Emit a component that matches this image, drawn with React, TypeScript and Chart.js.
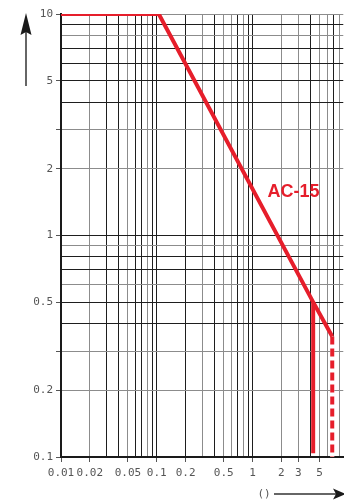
import React, { useEffect, useRef } from "react";
import { Chart, registerables } from "chart.js";

Chart.register(...registerables);

// ---- data ----
const curveX = [0.01, 0.105, 4.3, 6.8];
const curveY = [10, 10, 0.5, 0.35];
const solidLimitX = [4.3, 4.3];
const solidLimitY = [0.5, 0.104];
const dashedLimitX = [6.8, 6.8];
const dashedLimitY = [0.35, 0.1];
const xTickLabels = [0.01, 0.02, 0.05, 0.1, 0.2, 0.5, 1, 2, 3, 5];
const yTickLabels = [0.1, 0.2, 0.5, 1, 2, 5, 10];
const yTickMarksExtra = [0.3, 3];
const seriesLabel = "AC-15";
const labelAt = [1.43, 1.57];
const xMin = 0.01;
const xMax = 8.87;
const yMin = 0.1;
const yMax = 10;

// ---- styles ----
const RED = "#e61e2b";
const GRID_DARK = "#1e1e1e";
const GRID_GRAY = "#8c8c8c";
const xGrayGrid = [0.02, 0.05, 0.08, 0.3, 0.5, 0.6, 0.8, 2, 3, 5, 6, 8];
const yGrayGrid = [10, 8, 3, 2, 0.9, 0.6, 0.3, 0.2];

const near = (a: number, b: number) =>
  Math.abs(Math.log10(a) - Math.log10(b)) < 1e-6;
const inList = (v: number, list: number[]) => list.some((l) => near(v, l));

function logGrid(min: number, max: number) {
  const out: number[] = [];
  for (let e = -3; e <= 2; e++) {
    for (let m = 1; m <= 9; m++) {
      const v = Number((m * Math.pow(10, e)).toPrecision(6));
      if (v >= min * 0.9999 && v <= max * 1.0001) out.push(v);
    }
  }
  return out;
}

const pts = (xs: number[], ys: number[]) => xs.map((x, i) => ({ x, y: ys[i] }));

export default function App() {
  const ref = useRef<HTMLCanvasElement | null>(null);

  useEffect(() => {
    if (!ref.current) return;
    const decor = {
      id: "decor",
      afterDraw(chart: any) {
        const ctx = chart.ctx;
        const xs = chart.scales.x;
        const ys = chart.scales.y;
        ctx.save();
        // series label
        ctx.fillStyle = RED;
        ctx.font = "bold 18px 'Liberation Sans', Arial, sans-serif";
        ctx.textAlign = "left";
        ctx.textBaseline = "middle";
        ctx.fillText(seriesLabel, xs.getPixelForValue(labelAt[0]), ys.getPixelForValue(labelAt[1]));
        // vertical arrow
        ctx.strokeStyle = "#333";
        ctx.fillStyle = "#1a1a1a";
        ctx.lineWidth = 1.5;
        ctx.beginPath();
        ctx.moveTo(26, 86);
        ctx.lineTo(26, 30);
        ctx.stroke();
        ctx.beginPath();
        ctx.moveTo(26, 13);
        ctx.lineTo(31.5, 35);
        ctx.lineTo(26, 32);
        ctx.lineTo(20.5, 35);
        ctx.closePath();
        ctx.fill();
        // horizontal arrow
        ctx.beginPath();
        ctx.moveTo(274, 494);
        ctx.lineTo(338, 494);
        ctx.stroke();
        ctx.beginPath();
        ctx.moveTo(346, 494);
        ctx.lineTo(333, 488.5);
        ctx.lineTo(336, 494);
        ctx.lineTo(333, 499.5);
        ctx.closePath();
        ctx.fill();
        ctx.fillStyle = "#555";
        ctx.font = "11px 'DejaVu Sans Mono', monospace";
        ctx.textAlign = "center";
        ctx.textBaseline = "middle";
        ctx.fillText("()", 264, 494);
        ctx.restore();
      },
    };

    const chart = new Chart(ref.current, {
      type: "line",
      data: {
        datasets: [
          {
            data: pts(curveX, curveY),
            borderColor: RED,
            borderWidth: 4,
            pointRadius: 0,
            tension: 0,
            borderCapStyle: "butt",
            borderJoinStyle: "miter",
            order: 0,
          },
          {
            data: pts(solidLimitX, solidLimitY),
            borderColor: RED,
            borderWidth: 4,
            pointRadius: 0,
            order: 1,
          },
          {
            data: pts(dashedLimitX, dashedLimitY),
            borderColor: RED,
            borderWidth: 4,
            borderDash: [8, 4],
            pointRadius: 0,
            order: 2,
          },
          {
            data: pts(dashedLimitX, dashedLimitY),
            borderColor: "#ffffff",
            borderWidth: 4,
            pointRadius: 0,
            order: 3,
          },
        ],
      },
      plugins: [decor],
      options: {
        animation: false,
        responsive: false,
        layout: { padding: { top: 14, left: 0, right: 0, bottom: 0 } },
        plugins: { legend: { display: false }, tooltip: { enabled: false } },
        scales: {
          x: {
            type: "logarithmic",
            min: xMin,
            max: xMax,
            afterBuildTicks: (s: any) => {
              s.ticks = logGrid(xMin, xMax).map((v) => ({ value: v }));
            },
            afterFit: (s: any) => {
              s.height = 43;
            },
            border: { color: "#1a1a1a", width: 2 },
            grid: {
              color: (c: any) => (inList(c.tick.value, xGrayGrid) ? GRID_GRAY : GRID_DARK),
              lineWidth: 1,
              tickLength: 5,
              tickColor: (c: any) =>
                inList(c.tick.value, xTickLabels) ? "#555" : "rgba(0,0,0,0)",
            },
            ticks: {
              autoSkip: false,
              maxRotation: 0,
              padding: 5,
              color: "#555",
              font: { family: "'DejaVu Sans Mono', monospace", size: 11 },
              callback: (v: any) => {
                const n = Number(v);
                return inList(n, xTickLabels) ? String(n) : "";
              },
            },
          },
          y: {
            type: "logarithmic",
            min: yMin,
            max: yMax,
            afterBuildTicks: (s: any) => {
              s.ticks = logGrid(yMin, yMax).map((v) => ({ value: v }));
            },
            afterFit: (s: any) => {
              s.width = 61;
            },
            border: { color: "#1a1a1a", width: 2 },
            grid: {
              color: (c: any) => (inList(c.tick.value, yGrayGrid) ? GRID_GRAY : GRID_DARK),
              lineWidth: 1,
              tickLength: 5,
              tickColor: (c: any) =>
                inList(c.tick.value, yTickLabels) || inList(c.tick.value, yTickMarksExtra)
                  ? "#555"
                  : "rgba(0,0,0,0)",
            },
            ticks: {
              autoSkip: false,
              padding: 3,
              color: "#555",
              font: { family: "'DejaVu Sans Mono', monospace", size: 11 },
              callback: (v: any) => {
                const n = Number(v);
                return inList(n, yTickLabels) ? String(n) : "";
              },
            },
          },
        },
      },
    } as any);
    return () => chart.destroy();
  }, []);

  return (
    <div style={{ position: "absolute", left: 0, top: 0, width: 344, height: 500, background: "#fff" }}>
      <canvas ref={ref} width={344} height={500} style={{ display: "block" }} />
    </div>
  );
}
